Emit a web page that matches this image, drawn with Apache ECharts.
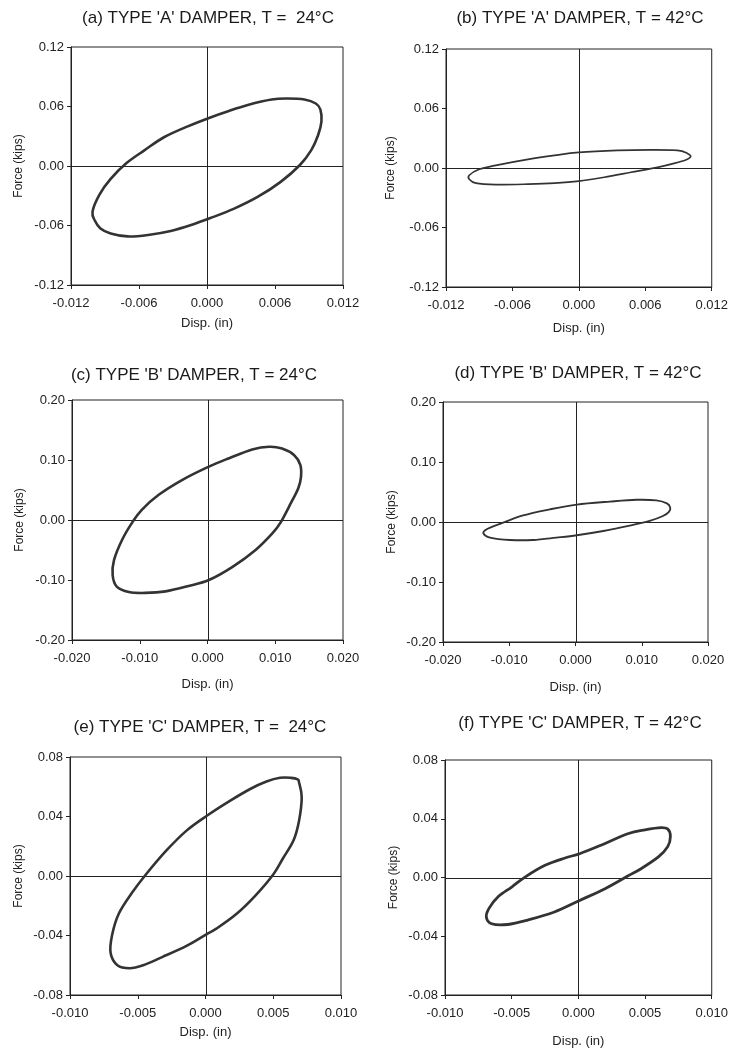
<!DOCTYPE html>
<html>
<head>
<meta charset="utf-8">
<script src="https://cdn.jsdelivr.net/npm/echarts@6/dist/echarts.min.js"></script>
<style>
html,body{margin:0;padding:0;background:#fff;}
#c{width:731px;height:1050px;}
</style>
</head>
<body>
<div id="c"></div>
<script>
// ---------- DATA ----------
var titles = [
  "(a) TYPE 'A' DAMPER, T =  24\u00B0C",
  "(b) TYPE 'A' DAMPER, T = 42\u00B0C",
  "(c) TYPE 'B' DAMPER, T = 24\u00B0C",
  "(d) TYPE 'B' DAMPER, T = 42\u00B0C",
  "(e) TYPE 'C' DAMPER, T =  24\u00B0C",
  "(f) TYPE 'C' DAMPER, T = 42\u00B0C"
];
var xAxisName = "Disp. (in)";
var yAxisName = "Force (kips)";

// axis ranges: [min, max, interval]
var xRangeA = [-0.012, 0.012, 0.006];
var yRangeA = [-0.12, 0.12, 0.06];
var xRangeB = [-0.020, 0.020, 0.010];
var yRangeB = [-0.20, 0.20, 0.10];
var xRangeC = [-0.010, 0.010, 0.005];
var yRangeC = [-0.08, 0.08, 0.04];

// hysteresis loops (closed; traced clockwise from the right end)
// (a) Type A, 24 C
var dispA24 = [0.0101, 0.0100, 0.0096, 0.0086, 0.0071, 0.0057, 0.0036, 0.0018, 0.0003, -0.0017, -0.0038, -0.0055, -0.0071, -0.0085, -0.0095, -0.0101, -0.0099, -0.0094, -0.0085, -0.0070, -0.0052, -0.0032, -0.0014, 0.0003, 0.0024, 0.0045, 0.0065, 0.0082, 0.0092, 0.0098];
var forceA24 = [0.045, 0.057, 0.063, 0.067, 0.068, 0.067, 0.0615, 0.055, 0.049, 0.040, 0.029, 0.016, 0.003, -0.013, -0.029, -0.046, -0.055, -0.063, -0.068, -0.071, -0.0695, -0.0655, -0.0595, -0.0525, -0.043, -0.031, -0.016, 0.001, 0.016, 0.031];

// (b) Type A, 42 C
var dispA42 = [0.0101, 0.0098, 0.0089, 0.0065, 0.0035, 0.0000, -0.0022, -0.0046, -0.0075, -0.0090, -0.0099, -0.0099, -0.0093, -0.0075, -0.0046, -0.0022, 0.0000, 0.0023, 0.0047, 0.0071, 0.0086, 0.0097];
var forceA42 = [0.0117, 0.0147, 0.0177, 0.0182, 0.0177, 0.0157, 0.0127, 0.0087, 0.0027, -0.0013, -0.0073, -0.0113, -0.0153, -0.0168, -0.0163, -0.0153, -0.0133, -0.0093, -0.0043, 0.0007, 0.0047, 0.0084];

// (c) Type B, 24 C
var dispB24 = [0.0138, 0.0137, 0.0128, 0.0110, 0.0091, 0.0066, 0.0032, 0.0002, -0.0037, -0.0072, -0.0097, -0.0111, -0.0126, -0.0138, -0.0140, -0.0134, -0.0116, -0.0092, -0.0062, -0.0028, 0.0002, 0.0037, 0.0071, 0.0096, 0.0108, 0.0123, 0.0134];
var forceB24 = [0.072, 0.092, 0.108, 0.119, 0.122, 0.1175, 0.103, 0.089, 0.067, 0.042, 0.017, -0.004, -0.033, -0.067, -0.092, -0.111, -0.120, -0.1215, -0.119, -0.110, -0.100, -0.078, -0.050, -0.022, -0.004, 0.028, 0.053];

// (d) Type B, 42 C
var dispB42 = [0.0143, 0.0138, 0.0122, 0.0092, 0.0052, 0.0002, -0.0039, -0.0079, -0.0114, -0.0134, -0.0139, -0.0129, -0.0099, -0.0064, -0.0029, 0.0002, 0.0042, 0.0082, 0.0112, 0.0132, 0.0141];
var forceB42 = [0.024, 0.031, 0.036, 0.037, 0.034, 0.029, 0.021, 0.011, -0.003, -0.012, -0.019, -0.026, -0.030, -0.030, -0.026, -0.022, -0.015, -0.006, 0.002, 0.010, 0.017];

// (e) Type C, 24 C
var dispC24 = [0.0069, 0.0071, 0.0069, 0.0065, 0.0057, 0.0050, 0.0037, 0.0023, 0.0008, 0.0001, -0.0014, -0.0032, -0.0046, -0.0056, -0.0065, -0.0070, -0.0069, -0.0064, -0.0054, -0.0044, -0.0029, -0.0014, 0.0001, 0.0018, 0.0033, 0.0045, 0.0055, 0.0063, 0.0068];
var forceC24 = [0.063, 0.053, 0.037, 0.024, 0.0116, 0.001, -0.013, -0.0254, -0.0354, -0.039, -0.047, -0.0545, -0.060, -0.062, -0.060, -0.052, -0.040, -0.0254, -0.011, 0.001, 0.017, 0.0305, 0.0405, 0.0505, 0.0585, 0.0635, 0.066, 0.066, 0.065];

// (f) Type C, 42 C
var dispC42 = [0.0067, 0.0069, 0.0067, 0.0060, 0.0047, 0.0037, 0.0020, 0.0001, -0.0018, -0.0038, -0.0053, -0.0065, -0.0069, -0.0067, -0.0060, -0.0050, -0.0040, -0.0025, -0.0010, 0.0001, 0.0017, 0.0037, 0.0050, 0.0062];
var forceC42 = [0.033, 0.028, 0.021, 0.014, 0.006, 0.001, -0.0076, -0.0156, -0.0235, -0.029, -0.032, -0.0315, -0.027, -0.021, -0.013, -0.0065, 0.0003, 0.0083, 0.0133, 0.0162, 0.022, 0.0298, 0.0325, 0.034];

// ---------- LAYOUT ----------
var FONT = "'Liberation Sans', Arial, Helvetica, sans-serif";
var INK = '#222';

var panels = [
  {grid:{left:71, top:47, width:272, height:238}, xr:xRangeA, yr:yRangeA, xd:3, yd:2, xs:dispA24, ys:forceA24, lw:2.6, title:{x:208, y:18}, yGap:46, xGap:32},
  {grid:{left:446, top:49, width:267, height:238}, xr:xRangeA, yr:yRangeA, xd:3, yd:2, xs:dispA42, ys:forceA42, lw:1.7, title:{x:580, y:18}, yGap:49, xGap:35},
  {grid:{left:72, top:400, width:271, height:240}, xr:xRangeB, yr:yRangeB, xd:3, yd:2, xs:dispB24, ys:forceB24, lw:2.6, title:{x:194, y:375}, yGap:46, xGap:38},
  {grid:{left:443, top:402, width:265, height:240}, xr:xRangeB, yr:yRangeB, xd:3, yd:2, xs:dispB42, ys:forceB42, lw:1.9, title:{x:578, y:373}, yGap:45, xGap:39},
  {grid:{left:70, top:757, width:271, height:238}, xr:xRangeC, yr:yRangeC, xd:3, yd:2, xs:dispC24, ys:forceC24, lw:2.6, title:{x:200, y:727}, yGap:45, xGap:31},
  {grid:{left:445, top:760, width:268, height:235}, xr:xRangeC, yr:yRangeC, xd:3, yd:2, xs:dispC42, ys:forceC42, lw:2.8, title:{x:580, y:723}, yGap:45, xGap:40}
];

function pairs(xs, ys){
  var out = [];
  for (var i = 0; i < xs.length; i++) out.push([xs[i], ys[i]]);
  return out;
}

// closed smooth loop through the data points (Catmull-Rom as cubic Beziers), in pixel space from api.coord
function makeLoopRenderer(p){
  return function(params, api){
    if (params.dataIndex !== 0) return null;
    var pts = [];
    for (var k = 0; k < p.xs.length; k++) pts.push(api.coord([p.xs[k], p.ys[k]]));
    var n = pts.length;
    var d = 'M' + pts[0][0].toFixed(2) + ' ' + pts[0][1].toFixed(2);
    for (var j = 0; j < n; j++){
      var p0 = pts[(j - 1 + n) % n], p1 = pts[j], p2 = pts[(j + 1) % n], p3 = pts[(j + 2) % n];
      var c1x = p1[0] + (p2[0] - p0[0]) / 6, c1y = p1[1] + (p2[1] - p0[1]) / 6;
      var c2x = p2[0] - (p3[0] - p1[0]) / 6, c2y = p2[1] - (p3[1] - p1[1]) / 6;
      d += ' C' + c1x.toFixed(2) + ' ' + c1y.toFixed(2) + ' ' + c2x.toFixed(2) + ' ' + c2y.toFixed(2) + ' ' + p2[0].toFixed(2) + ' ' + p2[1].toFixed(2);
    }
    d += ' Z';
    var vTop = api.coord([0, p.yr[1]]), vBot = api.coord([0, p.yr[0]]);
    var hL = api.coord([p.xr[0], 0]), hR = api.coord([p.xr[1], 0]);
    var vx = Math.round(vTop[0]) + 0.5, hy = Math.round(hL[1]) + 0.5;
    return {
      type:'group',
      children:[
        {type:'line', shape:{x1:vx, y1:vTop[1], x2:vx, y2:vBot[1]}, style:{stroke:INK, lineWidth:1, fill:null}},
        {type:'line', shape:{x1:hL[0], y1:hy, x2:hR[0], y2:hy}, style:{stroke:INK, lineWidth:1, fill:null}},
        {type:'path', shape:{pathData:d}, style:{fill:'none', stroke:'#333', lineWidth:p.lw, lineJoin:'round', lineCap:'round'}}
      ]
    };
  };
}

var grids = [], xAxes = [], yAxes = [], series = [], graphics = [];
panels.forEach(function(p, i){
  grids.push(Object.assign({show:true, borderColor:INK, borderWidth:1, containLabel:false}, p.grid));
  xAxes.push({
    type:'value', gridIndex:i, min:p.xr[0], max:p.xr[1], interval:p.xr[2],
    name:xAxisName, nameLocation:'middle', nameGap:p.xGap,
    nameTextStyle:{fontFamily:FONT, fontSize:13, color:INK},
    axisLine:{show:true, onZero:false, lineStyle:{color:INK, width:1}},
    axisTick:{show:true, inside:false, length:4, lineStyle:{color:INK}},
    axisLabel:{show:true, margin:12, fontFamily:FONT, fontSize:13, color:INK, showMinLabel:true, showMaxLabel:true,
      formatter:(function(d){return function(v){return v.toFixed(d);};})(p.xd)},
    splitLine:{show:false}
  });
  yAxes.push({
    type:'value', gridIndex:i, min:p.yr[0], max:p.yr[1], interval:p.yr[2],
    name:yAxisName, nameLocation:'middle', nameGap:p.yGap, nameRotate:90,
    nameTextStyle:{fontFamily:FONT, fontSize:12, color:INK},
    axisLine:{show:true, onZero:false, lineStyle:{color:INK, width:1}},
    axisTick:{show:true, inside:false, length:4, lineStyle:{color:INK}},
    axisLabel:{show:true, margin:7, fontFamily:FONT, fontSize:13, color:INK, showMinLabel:true, showMaxLabel:true,
      formatter:(function(d){return function(v){return v.toFixed(d);};})(p.yd)},
    splitLine:{show:false}
  });
  series.push({
    type:'custom', xAxisIndex:i, yAxisIndex:i, coordinateSystem:'cartesian2d',
    data:pairs(p.xs, p.ys),
    renderItem:makeLoopRenderer(p),
    silent:true, animation:false, clip:false, z:3
  });
  graphics.push({
    type:'text', x:p.title.x, y:p.title.y,
    style:{text:titles[i], font:'17px ' + FONT, fill:'#1a1a1a', textAlign:'center', textVerticalAlign:'middle', verticalAlign:'middle'}
  });
});

var chart = echarts.init(document.getElementById('c'), null, {renderer:'canvas'});
chart.setOption({
  animation:false,
  backgroundColor:'#ffffff',
  grid:grids, xAxis:xAxes, yAxis:yAxes, series:series,
  graphic:graphics
});
</script>
</body>
</html>
